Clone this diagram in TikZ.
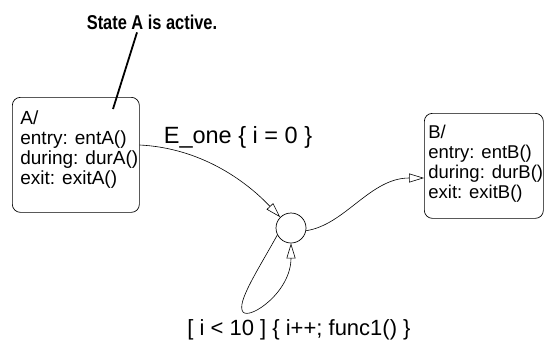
\documentclass[tikz,border=0pt]{standalone}
\usepackage{fontspec}
\setmainfont{Liberation Sans}
\usetikzlibrary{arrows.meta}
\newcommand{\boxfont}{\fontsize{19}{20}\selectfont}
\newcommand{\labelfont}{\fontsize{22}{24}\selectfont}
\tikzset{
  state/.style={draw, rounded corners=8pt, anchor=north west, inner sep=0pt, line width=0.7pt},
  junction/.style={draw, circle, minimum size=30pt, inner sep=0pt, line width=0.7pt},
  trans/.style={line width=0.6pt, -{Triangle[open, length=15pt, width=9pt]}}
}
\begin{document}
\begin{tikzpicture}[x=1pt, y=-1pt]
\useasboundingbox (0,0) rectangle (545,345);
\node[state] (A) at (12,97) {\parbox[t][115pt][t]{127pt}{\boxfont\raggedright\leftskip=8pt\vspace*{13pt}\mbox{A/}\\\mbox{entry: entA()}\\\mbox{during: durA()}\\\mbox{exit: exitA()}}};
\node[state] (B) at (424,113) {\parbox[t][105pt][t]{119pt}{\fontsize{18.5}{20}\selectfont\raggedright\leftskip=4pt\vspace*{12pt}\mbox{B/}\\\mbox{entry: entB()}\\\mbox{during: durB()}\\\mbox{exit: exitB()}}};
\node[junction] (j) at (291,228) {};
\node[anchor=base, inner sep=0pt] (note) at (152,30) {\scalebox{0.82}[1]{\fontsize{20}{22}\selectfont\bfseries State A is active.}};
\coordinate (tip) at (113,109);
\draw[line width=1.8pt] ([xshift=-15pt,yshift=-2pt]note.south) -- (tip);
\draw[trans] ([yshift=-48pt]A.north east) .. controls (200,148) and (245,180) .. (j.north west);
\node[anchor=base, inner sep=0pt] (ev) at (238,143) {\fontsize{23.5}{25}\selectfont E\_one \{ i = 0 \}};
\draw[trans] (j.-10) .. controls (345,225) and (370,178) .. ([yshift=-65pt]B.north west);
\coordinate (bend) at (243,312);
\draw[trans] (j.207) .. controls (258,270) and (236,303) .. (bend) .. controls (250,320) and (291,292) .. (j.south);
\node[anchor=base, inner sep=0pt] (cond) at (299,335) {\labelfont [ i < 10 ] \{ i++; func1() \}};
\end{tikzpicture}
\end{document}
